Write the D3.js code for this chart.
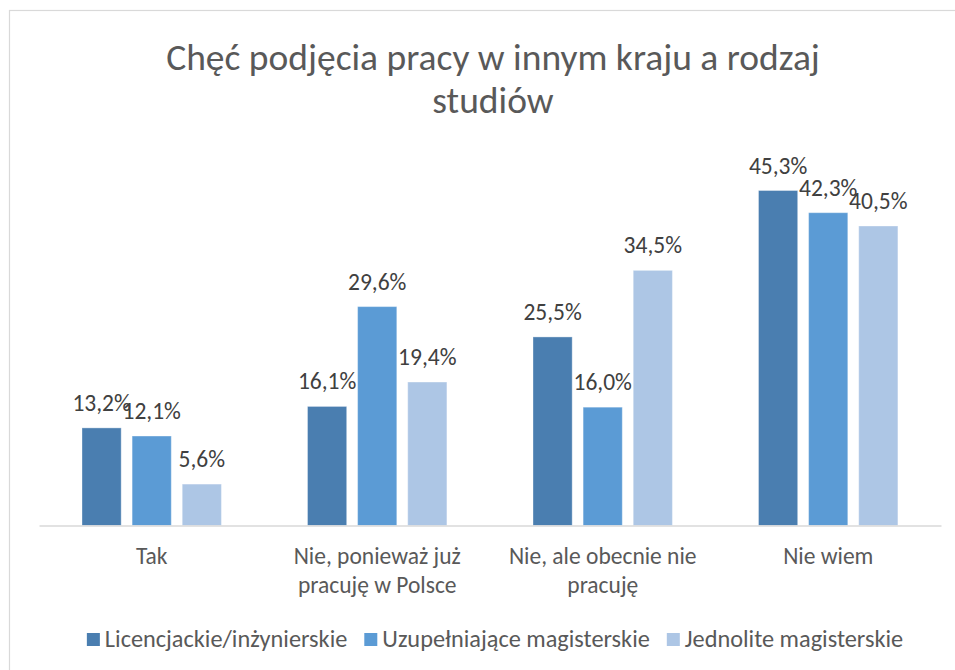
<!DOCTYPE html>
<html>
<head>
<meta charset="utf-8">
<script src="https://cdn.jsdelivr.net/npm/d3@7"></script>
<style>
  html, body { margin: 0; padding: 0; background: #fff; }
  svg { display: block; }
  text { font-family: Carlito, Calibri, Lato, "Open Sans", sans-serif; }
</style>
</head>
<body>
<svg id="chart" width="955" height="670"></svg>
<script>
// ---- data ----
const titleLines = ["Chęć podjęcia pracy w innym kraju a rodzaj", "studiów"];
const categories = ["Tak", "Nie, ponieważ już pracuję w Polsce", "Nie, ale obecnie nie pracuję", "Nie wiem"];
const categoryLines = [["Tak"], ["Nie, ponieważ już", "pracuję w Polsce"], ["Nie, ale obecnie nie", "pracuję"], ["Nie wiem"]];
const seriesNames = ["Licencjackie/inżynierskie", "Uzupełniające magisterskie", "Jednolite magisterskie"];
const licencjackie = [13.2, 16.1, 25.5, 45.3];
const uzupelniajace = [12.1, 29.6, 16.0, 42.3];
const jednolite = [5.6, 19.4, 34.5, 40.5];
const seriesValues = [licencjackie, uzupelniajace, jednolite];
const seriesColors = ["#4a7eb0", "#5b9bd5", "#adc6e5"];

// ---- layout ----
const svg = d3.select("#chart");
const plotLeft = 39, plotRight = 941, baseY = 525.5, topY = 155.75;
const centerX = 493;

svg.append("rect")
  .attr("x", 9.5).attr("y", 10.5).attr("width", 1000).attr("height", 700)
  .attr("fill", "none").attr("stroke", "#d9d9d9").attr("stroke-width", 1.2);

// title
svg.append("g").selectAll("text").data(titleLines).join("text")
  .attr("x", centerX).attr("y", (d, i) => 70 + i * 43)
  .attr("text-anchor", "middle")
  .attr("font-size", 37.5).attr("font-weight", 300)
  .attr("fill", "#595959")
  .text(d => d);

const x = d3.scaleBand().domain(categories).range([plotLeft, plotRight]).paddingInner(0).paddingOuter(0);
const xInner = d3.scaleBand().domain(seriesNames).range([43, 182.4]).paddingInner(0.218).paddingOuter(0);
const y = d3.scaleLinear().domain([0, 50]).range([baseY, topY]);

const locale = d3.formatLocale({decimal: ",", thousands: " ", grouping: [3], currency: ["", " zł"]});
const fmt = v => locale.format(".1f")(v) + "%";

const rows = [];
categories.forEach((c, ci) => {
  seriesNames.forEach((s, si) => {
    rows.push({cat: c, ser: s, si, v: seriesValues[si][ci]});
  });
});

// bars
svg.append("g").selectAll("rect").data(rows).join("rect")
  .attr("x", d => x(d.cat) + xInner(d.ser))
  .attr("width", xInner.bandwidth())
  .attr("y", d => y(d.v))
  .attr("height", d => baseY - y(d.v))
  .attr("fill", d => seriesColors[d.si])
  .attr("stroke", "#ffffff").attr("stroke-opacity", 0.35).attr("stroke-width", 1);

// axis line
const xAxis = d3.axisBottom(x).tickSize(0).tickFormat("");
const axG = svg.append("g").attr("transform", `translate(0,${baseY})`).call(xAxis);
axG.select(".domain").attr("stroke", "#d9d9d9").attr("stroke-width", 1.5);

// data labels
svg.append("g").selectAll("text").data(rows).join("text")
  .attr("x", d => x(d.cat) + xInner(d.ser) + xInner.bandwidth() / 2)
  .attr("y", d => y(d.v) - 17)
  .attr("text-anchor", "middle")
  .attr("font-size", 23.5)
  .attr("fill", "#404040")
  .text(d => fmt(d.v));

// category labels
const catG = svg.append("g");
categories.forEach((c, ci) => {
  catG.append("g").selectAll("text").data(categoryLines[ci]).join("text")
    .attr("x", x(c) + x.bandwidth() / 2)
    .attr("y", (d, i) => 564 + i * 29)
    .attr("text-anchor", "middle")
    .attr("font-size", 23.5)
    .attr("fill", "#595959")
    .text(d => d);
});

// legend
const legG = svg.append("g");
const items = legG.selectAll("g").data(seriesNames).join("g");
items.append("rect").attr("width", 13).attr("height", 13).attr("y", 633)
  .attr("fill", (d, i) => seriesColors[i]);
items.append("text").attr("x", 18).attr("y", 647)
  .attr("font-size", 24.3).attr("fill", "#595959").text(d => d);
const widths = [];
items.each(function() { widths.push(18 + d3.select(this).select("text").node().getComputedTextLength()); });
const gap = 17;
const total = d3.sum(widths) + gap * (widths.length - 1);
let cx = 495 - total / 2;
items.each(function(d, i) {
  d3.select(this).attr("transform", `translate(${cx},0)`);
  cx += widths[i] + gap;
});
</script>
</body>
</html>
